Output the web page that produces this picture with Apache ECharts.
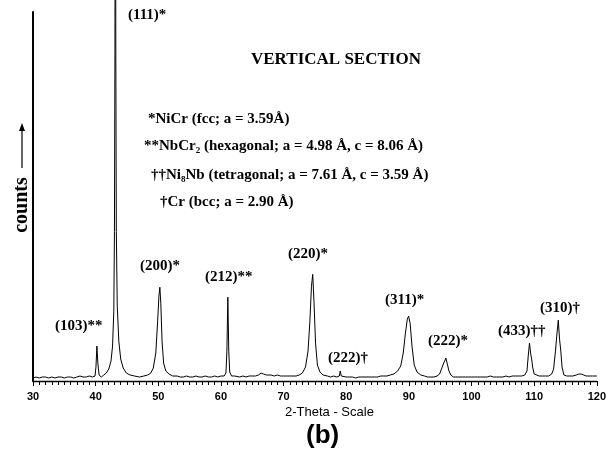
<!DOCTYPE html>
<html>
<head>
<meta charset="utf-8">
<script src="https://cdn.jsdelivr.net/npm/echarts@6/dist/echarts.min.js"></script>
<style>
  html, body { margin: 0; padding: 0; background: #fff; }
  #chart { width: 609px; height: 455px; }
</style>
</head>
<body>
<div id="chart"></div>
<script>
// 2-theta (deg), counts (baseline ~4)
var pattern = [
  [30,3],[30.5,4],[31,3],[31.5,4],[32,4],[32.5,3],[33,4],[33.5,3],[34,4],[34.5,4],
  [35,3],[35.5,4],[36,4],[36.5,3],[37,4],[37.5,5],[38,4],[38.5,4],[39,5],[39.5,4],
  [39.9,5],[40.05,14],[40.2,35],[40.35,18],[40.55,6],[40.9,4],[41.3,6],[41.7,8],[42.1,12],[42.45,20],
  [42.7,35],[42.9,70],[43.0,150],[43.08,330],[43.15,700],[43.22,330],[43.3,150],[43.45,75],[43.7,40],[44.0,22],
  [44.4,13],[44.9,8],[45.5,6],[46.2,5],[47,4],[47.7,5],[48.3,6],[48.8,8],[49.2,13],[49.6,28],
  [49.9,60],[50.1,85],[50.25,94],[50.4,78],[50.6,40],[50.85,18],[51.2,10],[51.7,7],[52.3,5],[53,5],
  [53.5,4],[54,4],[54.5,5],[55,4],[55.5,4],[56,5],[56.5,4],[57,4],[57.5,5],[58,4],
  [58.5,4],[59,5],[59.5,4],[60,5],[60.5,5],[60.8,8],[60.95,30],[61.1,84],[61.25,30],[61.4,9],
  [61.7,5],[62.2,5],[63,4],[63.5,5],[64,4],[64.5,5],[65,5],[65.5,5],[66,6],[66.4,8],
  [66.8,7],[67.3,6],[68,6],[68.5,5],[69,6],[69.5,5],[70,5],[70.5,5],[71,5],[71.5,5],
  [72,5],[72.5,6],[73,8],[73.5,14],[73.9,30],[74.2,60],[74.45,95],[74.65,107],[74.85,80],[75.1,38],
  [75.4,16],[75.8,9],[76.3,6],[77,5],[77.5,4],[78,5],[78.5,4],[78.9,5],[79.05,10],[79.2,5],
  [79.5,4],[80,4],[80.5,4],[81,4],[81.5,3],[82,4],[82.5,4],[83,4],[83.5,4],[84,4],
  [84.5,4],[85,4],[85.5,5],[86,5],[86.5,5],[87,6],[87.6,7],[88.2,10],[88.7,15],[89.1,28],
  [89.45,48],[89.75,62],[89.95,65],[90.2,58],[90.5,35],[90.85,16],[91.3,9],[91.9,6],[92.5,5],[93,4],
  [93.5,4],[94,4],[94.5,5],[94.9,7],[95.2,12],[95.5,17],[95.7,20],[95.9,23],[96.1,18],[96.4,10],
  [96.7,6],[97.1,4],[97.5,4],[98,4],[98.5,4],[99,4],[99.5,4],[100,4],[100.5,4],[101,4],
  [101.5,4],[102,4],[102.5,4],[103,5],[103.5,4],[104,4],[104.5,4],[105,4],[105.5,5],[106,4],
  [106.5,5],[107,5],[107.5,5],[108,5],[108.5,6],[108.85,10],[109.05,25],[109.25,38],[109.45,27],[109.6,22],
  [109.75,14],[110.0,7],[110.3,5],[110.8,5],[111.3,5],[111.8,5],[112.3,5],[112.8,7],[113.1,12],[113.4,30],
  [113.6,45],[113.85,61],[114.05,42],[114.25,30],[114.45,14],[114.75,6],[115.2,5],[115.7,5],[116.2,5],[116.7,6],
  [117.1,7],[117.5,7],[117.9,6],[118.3,5],[118.8,5],[119.3,5],[120,5]
];

// peak labels (reflection + phase mark)
var peakLabels = ['(111)*', '(103)**', '(200)*', '(212)**', '(220)*', '(222)\u2020', '(311)*', '(222)*', '(433)\u2020\u2020', '(310)\u2020'];
var peakLabelPos = [[128,17], [55,328], [140,268], [205,279], [288,256], [328,360], [385,302], [428,343], [498,333], [540,310]];

// phase key
var phaseKey = [
  '*NiCr (fcc; a = 3.59\u00c5)',
  '**NbCr\u2082 (hexagonal; a = 4.98 \u00c5, c = 8.06 \u00c5)',
  '\u2020\u2020Ni\u2088Nb (tetragonal; a = 7.61 \u00c5, c = 3.59 \u00c5)',
  '\u2020Cr (bcc; a = 2.90 \u00c5)'
];
var phaseKeyPos = [[148,121], [144,148], [151,177], [160,204]];

var serifBold = 'bold 15px "Liberation Serif", "DejaVu Serif", serif';

var graphics = [];
peakLabels.forEach(function (t, i) {
  graphics.push({
    type: 'text', left: peakLabelPos[i][0], top: peakLabelPos[i][1] - 9,
    style: { text: t, font: serifBold, fill: '#000' }
  });
});
phaseKey.forEach(function (t, i) {
  graphics.push({
    type: 'text', left: phaseKeyPos[i][0], top: phaseKeyPos[i][1] - 9,
    style: { text: t, font: serifBold, fill: '#000' }
  });
});
// title + x name + panel letter
graphics.push({
  type: 'text', left: 251, top: 51,
  style: { text: 'VERTICAL SECTION', font: 'bold 17px "Liberation Serif", serif', fill: '#000' }
});
graphics.push({
  type: 'text', left: 285, top: 406,
  style: { text: '2-Theta - Scale', font: '13px "Liberation Sans", Arial, sans-serif', fill: '#000' }
});
graphics.push({
  type: 'text', left: 306, top: 423,
  style: { text: '(b)', font: 'bold 26px "Liberation Sans", Arial, sans-serif', fill: '#000' }
});
// counts -> (rotated)
graphics.push({
  type: 'text', x: 22, y: 205, rotation: Math.PI / 2,
  style: { text: 'counts', font: 'bold 20px "Liberation Serif", serif', fill: '#000', align: 'center', verticalAlign: 'middle' }
});
graphics.push({
  type: 'line', shape: { x1: 22, y1: 168, x2: 22, y2: 128 },
  style: { stroke: '#000', lineWidth: 1.2 }
});
graphics.push({
  type: 'polygon', shape: { points: [[22, 123], [19, 131], [25, 131]] },
  style: { fill: '#000' }
});

var chart = echarts.init(document.getElementById('chart'));
chart.setOption({
  backgroundColor: '#fff',
  animation: false,
  grid: { left: 33, right: 12, top: 12, bottom: 74 },
  xAxis: {
    type: 'value', min: 30, max: 120, interval: 10,
    axisLine: { lineStyle: { color: '#000', width: 1.3 } },
    axisTick: { show: true, length: 5, lineStyle: { color: '#000' } },
    minorTick: { show: true, splitNumber: 10, length: 4, lineStyle: { color: '#000' } },
    splitLine: { show: false },
    axisLabel: { color: '#000', fontSize: 11, fontWeight: 'bold', fontFamily: '"Liberation Sans", Arial, sans-serif', margin: 10 }
  },
  yAxis: {
    type: 'value', min: 0, max: 370,
    axisLine: { show: true, lineStyle: { color: '#000', width: 2 } },
    axisTick: { show: false },
    axisLabel: { show: false },
    splitLine: { show: false }
  },
  series: [{
    type: 'line',
    data: pattern,
    showSymbol: false,
    clip: false,
    lineStyle: { color: '#000', width: 1 }
  }],
  graphic: graphics
});
</script>
</body>
</html>
